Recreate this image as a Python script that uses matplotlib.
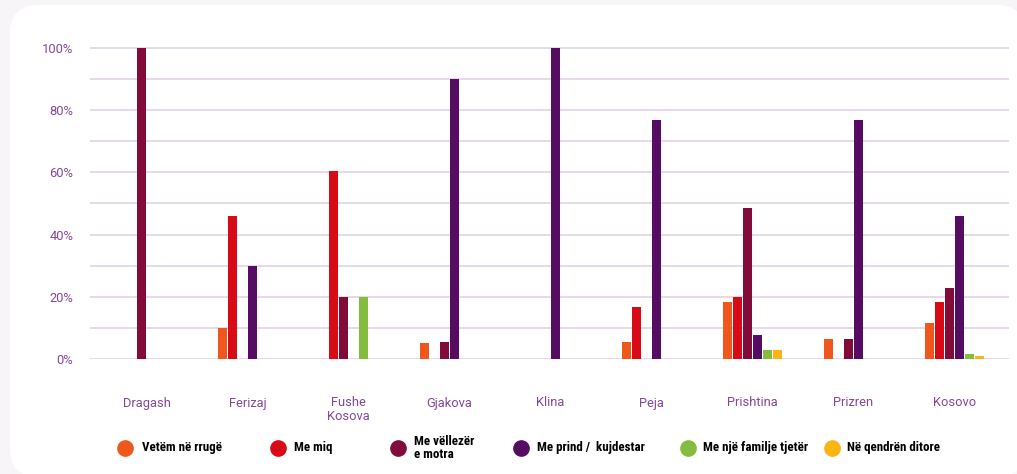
import numpy as np
import matplotlib.pyplot as plt
from matplotlib.patches import FancyBboxPatch
from matplotlib.lines import Line2D
from matplotlib import font_manager

# data (percent)
cities = ["Dragash", "Ferizaj", "Fushe\nKosova", "Gjakova", "Klina", "Peja", "Prishtina", "Prizren", "Kosovo"]
series_names = ["Vetëm në rrugë", "Me miq", "Me vëllezër\ne motra", "Me prind /  kujdestar",
                "Me një familje tjetër", "Në qendrën ditore"]
vetem_rruge = [0, 10, 0, 5, 0, 5.5, 18.3, 6.4, 11.6]
me_miq = [0, 46, 60.4, 0, 0, 16.7, 20, 0, 18.3]
me_vellezer = [100, 0, 20, 5.5, 0, 0, 48.5, 6.4, 22.8]
me_prind = [0, 30, 0, 90, 100, 77, 7.7, 77, 46]
familje_tjeter = [0, 0, 20, 0, 0, 0, 3, 0, 1.6]
qendra_ditore = [0, 0, 0, 0, 0, 0, 3, 0, 1.0]
yticks = [0, 20, 40, 60, 80, 100]

colors = ["#ef571d", "#d80a16", "#820b3a", "#560c62", "#84bd3e", "#fbb415"]
text_col = "#84479a"
grid_col = "#e4d6e8"

all_series = [vetem_rruge, me_miq, me_vellezer, me_prind, familje_tjeter, qendra_ditore]

# narrow bold face for the legend, if one is installed
names = {f.name for f in font_manager.fontManager.ttflist}
narrow = None
for cand in ["Liberation Sans Narrow", "DejaVu Sans Condensed", "Roboto Condensed"]:
    if cand in names:
        narrow = cand
        break

fig = plt.figure(figsize=(10.17, 4.74), dpi=100)
fig.patch.set_facecolor("#f7f5f8")
# white rounded card behind the chart
panel = FancyBboxPatch((10 / 1017, -3 / 474), 1015 / 1017, 472 / 474,
                       boxstyle="round,pad=0,rounding_size=0.028",
                       transform=fig.transFigure, facecolor="white", edgecolor="none",
                       mutation_aspect=1017 / 474, zorder=0)
fig.add_artist(panel)

ymax = 102
ax = fig.add_axes([90 / 1017, (474 - 359) / 474, 919 / 1017, 311 * ymax / 100 / 474])
ax.set_facecolor("none")

x = np.arange(len(cities))
step = 0.099
width = 0.09
for i, (vals, col) in enumerate(zip(all_series, colors)):
    offs = (i - 2.5) * step
    ax.bar(x + offs, vals, width=width, color=col, zorder=3)

ax.set_xlim(-0.56, 8.54)
ax.set_ylim(0, ymax)
for g in range(0, 101, 10):
    ax.axhline(g, color=grid_col, lw=1.3, zorder=1)
for s in ax.spines.values():
    s.set_visible(False)

ax.set_yticks(yticks)
ax.set_yticklabels([f"{v}%" for v in yticks], fontsize=9.3, color=text_col, family="Roboto")
ax.set_xticks(x)
ax.set_xticklabels(cities, fontsize=9.3, color=text_col, family="Roboto", linespacing=1.1)
ax.tick_params(axis="both", length=0)
ax.tick_params(axis="x", pad=27)
ax.tick_params(axis="y", pad=12)

# legend laid out by hand
leg_marker_x = [125, 278, 398, 521, 688, 832]
leg_text_x = [142, 294, 414, 537, 703, 847]
leg_y = 1 - 448 / 474
leg_font = narrow if narrow else "DejaVu Sans"
leg_size = 9.4 if narrow else 7.0
for mx, tx, name, col in zip(leg_marker_x, leg_text_x, series_names, colors):
    fig.add_artist(Line2D([mx / 1017], [leg_y], marker="o", markersize=11, color=col,
                          linestyle="none", transform=fig.transFigure))
    fig.text(tx / 1017, leg_y, name, fontsize=leg_size, fontweight="bold", color="black",
             family=leg_font, va="center", ha="left", linespacing=1.0)

fig.savefig("out.png", dpi=100, facecolor=fig.get_facecolor())
